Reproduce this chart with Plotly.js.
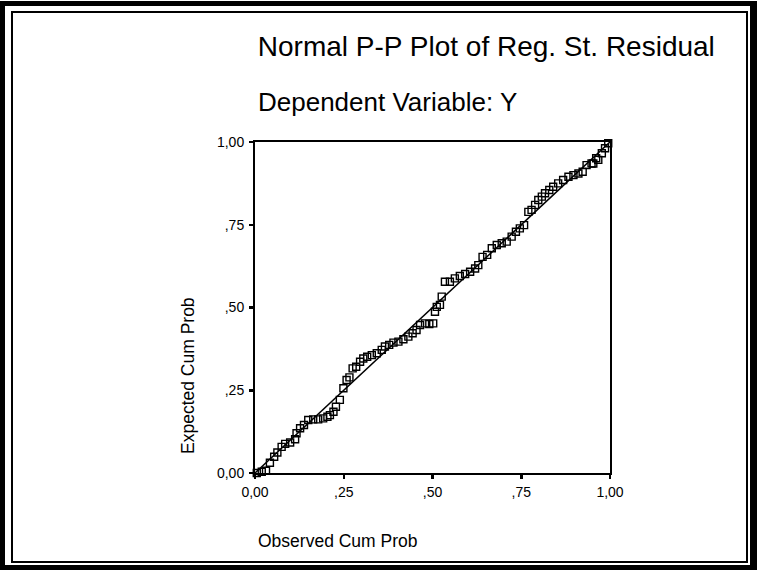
<!DOCTYPE html>
<html>
<head>
<meta charset="utf-8">
<script src="https://cdn.plot.ly/plotly-3.0.1.min.js"></script>
<style>
  html, body { margin: 0; padding: 0; background: #fff; }
  #outer { position: absolute; left: 0; top: 1px; width: 757px; height: 569px; box-sizing: border-box; border: 5px solid #000; border-right-width: 7px; }
  #inner { position: absolute; left: 11px; top: 11px; width: 737px; height: 552px; box-sizing: border-box; border: 2px solid #000; }
  #chart { position: absolute; left: 0; top: 0; width: 757px; height: 574px; }
</style>
</head>
<body>
<div id="outer"></div>
<div id="inner"></div>
<div id="chart"></div>
<script>
// Observed cumulative probability (x) and expected cumulative probability (y)
const observedCumProb = [0.005,0.019,0.031,0.042,0.054,0.063,0.075,0.085,0.099,0.113,
  0.117,0.127,0.138,0.150,0.164,0.178,0.192,0.204,0.211,0.221,
  0.228,0.239,0.249,0.258,0.266,0.275,0.285,0.296,0.305,0.316,
  0.329,0.343,0.357,0.366,0.378,0.390,0.404,0.418,0.432,0.444,
  0.455,0.465,0.479,0.491,0.502,0.507,0.512,0.521,0.526,0.535,
  0.549,0.563,0.577,0.592,0.606,0.620,0.629,0.641,0.654,0.667,
  0.681,0.695,0.709,0.723,0.735,0.746,0.758,0.770,0.779,0.789,
  0.798,0.808,0.817,0.829,0.840,0.854,0.868,0.883,0.897,0.911,
  0.923,0.934,0.948,0.953,0.961,0.967,0.977,0.986,0.995];
const expectedCumProb = [0.000,0.004,0.007,0.031,0.049,0.062,0.079,0.088,0.092,0.102,
  0.120,0.135,0.145,0.160,0.162,0.162,0.165,0.170,0.175,0.185,
  0.200,0.221,0.256,0.281,0.289,0.316,0.321,0.336,0.346,0.351,
  0.356,0.362,0.372,0.382,0.387,0.394,0.397,0.404,0.412,0.422,
  0.432,0.447,0.452,0.450,0.452,0.487,0.502,0.508,0.533,0.578,
  0.578,0.588,0.595,0.601,0.608,0.618,0.628,0.653,0.659,0.679,
  0.689,0.694,0.699,0.714,0.729,0.739,0.749,0.789,0.795,0.810,
  0.825,0.835,0.845,0.855,0.865,0.875,0.885,0.895,0.900,0.905,
  0.910,0.930,0.935,0.935,0.951,0.946,0.966,0.981,0.996];
// Reference (diagonal) line
const refLineX = [0, 1];
const refLineY = [0, 1];
// Ticks
const tickValues = [0, 0.25, 0.5, 0.75, 1];
const tickLabels = ["0,00", ",25", ",50", ",75", "1,00"];
// Texts
const titleLine1 = "Normal P-P Plot of Reg. St. Residual";
const titleLine2 = "Dependent Variable: Y";
const xTitle = "Observed Cum Prob";
const yTitle = "Expected Cum Prob";

const FONT = "Liberation Sans, Arial, sans-serif";

const traces = [
  {
    x: refLineX, y: refLineY, type: "scatter", mode: "lines",
    line: { color: "#000", width: 1.5 }, hoverinfo: "skip", showlegend: false,
    cliponaxis: false
  },
  {
    x: observedCumProb, y: expectedCumProb, type: "scatter", mode: "markers",
    marker: { symbol: "square-open", size: 7, color: "#000", line: { color: "#000", width: 1.4 } },
    showlegend: false, cliponaxis: false
  }
];

const axisCommon = {
  range: [0, 1], tickmode: "array", tickvals: tickValues, ticktext: tickLabels,
  showgrid: false, zeroline: false, showline: true, mirror: true,
  linecolor: "#000", linewidth: 2, ticks: "outside", ticklen: 4, tickwidth: 2.5,
  tickcolor: "#000", tickfont: { family: FONT, size: 14, color: "#000" }, fixedrange: true
};

const layout = {
  width: 757, height: 574,
  margin: { l: 255, r: 147, t: 142, b: 101 },
  paper_bgcolor: "rgba(0,0,0,0)", plot_bgcolor: "rgba(0,0,0,0)",
  font: { family: FONT, color: "#000" },
  title: {
    text: titleLine1, font: { family: FONT, size: 28, color: "#000" },
    xref: "paper", x: 0.008, xanchor: "left",
    yref: "container", y: 1 - 46 / 574, yanchor: "middle"
  },
  xaxis: Object.assign({}, axisCommon, { ticklabelstandoff: 1 }),
  yaxis: Object.assign({}, axisCommon, { ticklabelstandoff: 2 }),
  annotations: [
    { text: titleLine2, xref: "paper", yref: "paper", x: 0.003, y: (473 - 102) / 331,
      xanchor: "left", yanchor: "middle", showarrow: false,
      font: { family: FONT, size: 26, color: "#000" } },
    { text: xTitle, xref: "paper", yref: "paper", x: 0.003, y: (473 - 541) / 331,
      xanchor: "left", yanchor: "middle", showarrow: false,
      font: { family: FONT, size: 17.5, color: "#000" } },
    { text: yTitle, xref: "paper", yref: "paper", x: (188 - 255) / 355, y: (473 - 376) / 331,
      xanchor: "center", yanchor: "middle", textangle: -90, showarrow: false,
      font: { family: FONT, size: 17.5, color: "#000" } }
  ]
};

Plotly.newPlot("chart", traces, layout, { displayModeBar: false, staticPlot: true });
</script>
</body>
</html>
